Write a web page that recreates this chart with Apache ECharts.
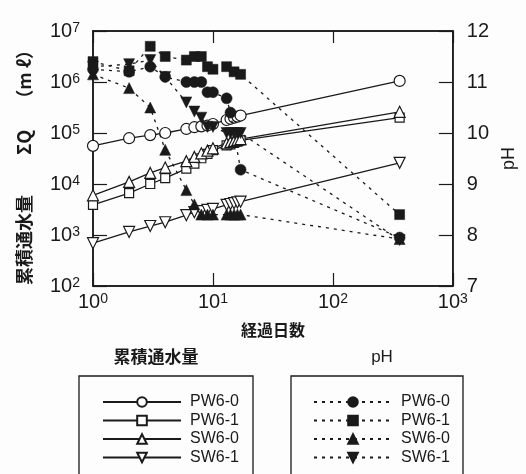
<!DOCTYPE html>
<html>
<head>
<meta charset="utf-8">
<script src="https://cdn.jsdelivr.net/npm/echarts@6/dist/echarts.min.js"></script>
<style>
  html, body { margin: 0; padding: 0; background: #fdfdfd; }
  #chart { width: 526px; height: 474px; }
</style>
</head>
<body>
<div id="chart"></div>
<script>
// 経過日数 (days) shared by the cumulative-flow series
var days = [1, 2, 3, 4, 6, 7, 8, 9, 10, 13, 14, 15, 16, 17, 360];

// 累積通水量 ΣQ (ml)
var qPW60 = [5.6e4, 7.9e4, 9.1e4, 1.0e5, 1.2e5, 1.3e5, 1.35e5, 1.4e5, 1.5e5, 1.8e5, 1.9e5, 2.0e5, 2.1e5, 2.2e5, 1.05e6];
var qPW61 = [3.9e3, 6.6e3, 1.0e4, 1.3e4, 2.0e4, 2.5e4, 3.2e4, 3.9e4, 4.6e4, 5.7e4, 6.0e4, 6.4e4, 6.8e4, 7.2e4, 2.0e5];
var qSW60 = [6.0e3, 1.1e4, 1.65e4, 2.1e4, 2.8e4, 3.4e4, 4.0e4, 4.5e4, 5.0e4, 6.3e4, 6.7e4, 7.0e4, 7.3e4, 7.6e4, 2.6e5];
var qSW61 = [690, 1150, 1500, 1780, 2450, 2800, 2950, 3100, 3250, 3900, 4050, 4200, 4350, 4500, 2.6e4];

// pH
var phDaysPW60 = [1, 2, 3, 4, 6, 7, 8, 9, 10, 13, 14, 17, 360];
var phPW60 = [11.25, 11.2, 11.3, 11.1, 11.0, 11.0, 11.0, 10.8, 10.8, 10.68, 10.4, 9.28, 7.95];
var phDaysPW61 = [1, 2, 3, 4, 6, 7, 8, 9, 10, 13, 15, 17, 360];
var phPW61 = [11.4, 11.22, 11.7, 11.5, 11.43, 11.5, 11.5, 11.3, 11.25, 11.3, 11.2, 11.15, 8.4];
var phDaysSW60 = [1, 2, 3, 4, 6, 7, 8, 9, 10, 13, 14, 15, 16, 17, 360];
var phSW60 = [11.15, 10.88, 10.5, 9.67, 8.88, 8.6, 8.4, 8.4, 8.4, 8.4, 8.4, 8.4, 8.4, 8.4, 7.92];
var phDaysSW61 = [1, 2, 3, 4, 6, 7, 8, 9, 10, 13, 14, 15, 16, 17, 360];
var phSW61 = [11.3, 11.35, 11.43, 11.1, 10.6, 10.42, 10.3, 10.12, 10.12, 10.0, 10.0, 10.0, 10.0, 10.0, 7.9];

// tick labels
var xExponents = [0, 1, 2, 3];
var yExponents = [2, 3, 4, 5, 6, 7];
var phTicks = [7, 8, 9, 10, 11, 12];

var INK = '#1a1a1a';
var NUM_FONT = '"Liberation Sans", Arial, sans-serif';
var JP_FONT = '"Noto Sans CJK JP", sans-serif';

function pairs(xs, ys) {
    return xs.map(function (x, i) { return [x, ys[i]]; });
}

function powLabel(v, list) {
    var e = Math.round(Math.log10(v));
    if (list.indexOf(e) < 0) return '';
    return '{b|10}{s|' + e + '}';
}

var powRich = {
    b: { fontSize: 20, fontFamily: NUM_FONT, color: INK },
    s: { fontSize: 14, fontFamily: NUM_FONT, color: INK, verticalAlign: 'top' }
};

function cumSeries(name, data, symbol, size, rotate) {
    return {
        name: name, type: 'line', xAxisIndex: 0, yAxisIndex: 0,
        data: pairs(days, data),
        symbol: symbol, symbolSize: size, symbolRotate: rotate || 0,
        itemStyle: { color: '#fff', borderColor: INK, borderWidth: 1.2 },
        lineStyle: { color: INK, width: 1.3, type: 'solid' },
        z: 3
    };
}

function phSeries(name, xs, data, symbol, size, rotate) {
    return {
        name: name, type: 'line', xAxisIndex: 0, yAxisIndex: 1,
        data: pairs(xs, data),
        symbol: symbol, symbolSize: size, symbolRotate: rotate || 0,
        itemStyle: { color: INK, borderColor: INK, borderWidth: 0.5 },
        lineStyle: { color: INK, width: 1.3, type: [3, 5] },
        z: 4
    };
}

var chart = echarts.init(document.getElementById('chart'));

var option = {
    backgroundColor: '#fdfdfd',
    animation: false,
    grid: { left: 93, right: 67, top: 31, bottom: 188, show: true, borderColor: INK, borderWidth: 1.5 },
    xAxis: [{
        type: 'log', logBase: 10, min: 1, max: 1000, position: 'bottom',
        name: '経過日数', nameLocation: 'middle', nameGap: 36,
        nameTextStyle: { fontFamily: JP_FONT, fontWeight: 'bold', fontSize: 16, color: INK },
        axisLine: { lineStyle: { color: INK, width: 1.5 } },
        axisTick: { inside: true, length: 13, lineStyle: { color: INK, width: 1.2 } },
        axisLabel: { margin: 6, formatter: function (v) { return powLabel(v, xExponents); }, rich: powRich },
        splitLine: { show: false }, minorTick: { show: false }
    }, {
        type: 'log', logBase: 10, min: 1, max: 1000, position: 'top',
        axisLine: { lineStyle: { color: INK, width: 1.5 } },
        axisTick: { inside: true, length: 12, lineStyle: { color: INK, width: 1.2 } },
        axisLabel: { show: false }, splitLine: { show: false }
    }],
    yAxis: [{
        type: 'log', logBase: 10, min: 100, max: 1e7, position: 'left',
        name: '累積通水量　　 ΣQ　 （m ℓ）　', nameLocation: 'middle', nameGap: 60, nameRotate: 90,
        nameTextStyle: { fontFamily: JP_FONT, fontWeight: 'bold', fontSize: 18, color: INK },
        axisLine: { lineStyle: { color: INK, width: 1.5 } },
        axisTick: { inside: true, length: 14, lineStyle: { color: INK, width: 1.2 } },
        axisLabel: { margin: 13, formatter: function (v) { return powLabel(v, yExponents); }, rich: powRich },
        splitLine: { show: false }, minorTick: { show: false }
    }, {
        type: 'value', min: 7, max: 12, interval: 1, position: 'right',
        name: 'pH', nameLocation: 'middle', nameGap: 44, nameRotate: 90,
        nameTextStyle: { fontFamily: NUM_FONT, fontSize: 18, color: INK },
        axisLine: { lineStyle: { color: INK, width: 1.5 } },
        axisTick: { inside: true, length: 14, lineStyle: { color: INK, width: 1.2 } },
        axisLabel: {
            margin: 14, fontSize: 20, fontFamily: NUM_FONT, color: INK,
            formatter: function (v) { return phTicks.indexOf(v) >= 0 ? String(v) : ''; }
        },
        splitLine: { show: false }
    }],
    legend: [{
        orient: 'vertical', left: 97, top: 388, itemWidth: 78, itemHeight: 12, itemGap: 0.5,
        selectedMode: false,
        data: ['PW6-0', 'PW6-1', 'SW6-0', 'SW6-1'],
        textStyle: { fontFamily: NUM_FONT, fontSize: 16, color: INK, lineHeight: 18, padding: [0, 0, 0, 4] }
    }, {
        orient: 'vertical', left: 308, top: 388, itemWidth: 78, itemHeight: 12, itemGap: 0.5,
        selectedMode: false,
        data: ['pH PW6-0', 'pH PW6-1', 'pH SW6-0', 'pH SW6-1'],
        formatter: function (n) { return n.replace('pH ', ''); },
        textStyle: { fontFamily: NUM_FONT, fontSize: 16, color: INK, lineHeight: 18, padding: [0, 0, 0, 4] }
    }],
    graphic: [
        { type: 'rect', shape: { x: 79, y: 376, width: 174, height: 120 },
          style: { fill: 'none', stroke: INK, lineWidth: 1.3 } },
        { type: 'rect', shape: { x: 291, y: 376, width: 172, height: 120 },
          style: { fill: 'none', stroke: INK, lineWidth: 1.3 } },
        { type: 'text', x: 156, y: 357,
          style: { text: '累積通水量', fontFamily: JP_FONT, fontWeight: 'bold', fontSize: 17, fill: INK,
                   align: 'center', verticalAlign: 'middle' } },
        { type: 'text', x: 382, y: 357,
          style: { text: 'pH', fontFamily: NUM_FONT, fontSize: 17, fill: INK,
                   align: 'center', verticalAlign: 'middle' } }
    ],
    series: [
        cumSeries('PW6-0', qPW60, 'circle', 11),
        cumSeries('PW6-1', qPW61, 'rect', 9),
        cumSeries('SW6-0', qSW60, 'triangle', 11),
        cumSeries('SW6-1', qSW61, 'triangle', 11, 180),
        phSeries('pH PW6-0', phDaysPW60, phPW60, 'circle', 11),
        phSeries('pH PW6-1', phDaysPW61, phPW61, 'rect', 10),
        phSeries('pH SW6-0', phDaysSW60, phSW60, 'triangle', 11),
        phSeries('pH SW6-1', phDaysSW61, phSW61, 'triangle', 11, 180)
    ]
};

chart.setOption(option);
</script>
</body>
</html>
